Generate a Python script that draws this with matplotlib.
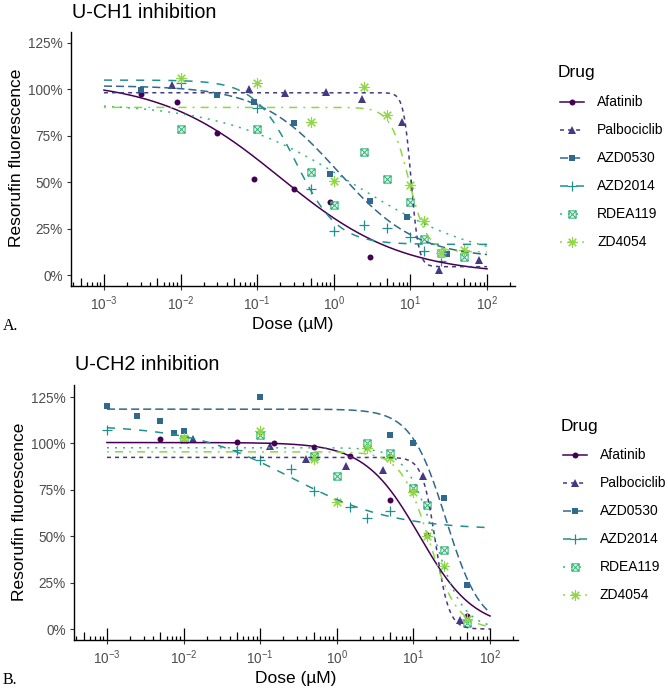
import numpy as np
import matplotlib
matplotlib.use("Agg")
import matplotlib.pyplot as plt
from matplotlib.lines import Line2D
from matplotlib.path import Path
from matplotlib.ticker import PercentFormatter, NullLocator

plt.rcParams['font.family'] = ['Liberation Sans', 'DejaVu Sans']
plt.rcParams['mathtext.fontset'] = 'custom'
plt.rcParams['mathtext.rm'] = 'Liberation Sans'
plt.rcParams['lines.scale_dashes'] = False

drugs = ["Afatinib", "Palbociclib", "AZD0530", "AZD2014", "RDEA119", "ZD4054"]
colors = ["#440154", "#443A83", "#31688E", "#21908C", "#35B779", "#8FD744"]

# U-CH1 measured points (dose in uM, fraction of control)
ch1_dose = [
    [0.003, 0.009, 0.03, 0.09, 0.3, 0.9, 3],
    [0.0078, 0.078, 0.234, 0.78, 2.34, 7.8, 23.4, 78],
    [0.003, 0.03, 0.09, 0.3, 0.9, 3, 9, 30],
    [0.01, 0.1, 0.5, 1, 2.5, 5, 10, 15, 25],
    [0.01, 0.1, 0.5, 1, 2.5, 5, 10, 15, 25, 50],
    [0.01, 0.1, 0.5, 1, 2.5, 5, 10, 15, 25, 50],
]
ch1_resp = [
    [0.973, 0.930, 0.767, 0.517, 0.463, 0.395, 0.097],
    [1.023, 1.0, 0.982, 0.986, 0.948, 0.824, 0.025, 0.081],
    [0.996, 0.971, 0.930, 0.817, 0.546, 0.399, 0.314, 0.113],
    [1.035, 0.90, 0.462, 0.238, 0.272, 0.254, 0.206, 0.131, 0.077],
    [0.785, 0.785, 0.555, 0.375, 0.664, 0.519, 0.391, 0.192, 0.117, 0.099],
    [1.063, 1.036, 0.826, 0.504, 1.015, 0.863, 0.486, 0.29, 0.12, 0.134],
]
# U-CH1 four-parameter log-logistic fits
ch1_slope = [0.55, 8.8, 0.85, 1.6, 0.5, 3.6]
ch1_bottom = [0.0, 0.045, 0.09, 0.165, 0.05, 0.125]
ch1_top = [1.05, 0.982, 1.02, 1.05, 0.93, 0.903]
ch1_ec50 = [0.2, 10.2, 1.15, 0.32, 1.8, 9.5]

# U-CH2 measured points
ch2_dose = [
    [0.005, 0.05, 0.15, 0.5, 1.5, 5, 15, 50],
    [0.0133, 0.133, 0.4, 1.33, 4, 13.3, 40],
    [0.001, 0.0025, 0.005, 0.0075, 0.01, 0.1, 5, 10, 25, 50],
    [0.001, 0.05, 0.1, 0.25, 0.5, 1.5, 2.5, 5],
    [0.01, 0.1, 0.5, 1, 2.5, 5, 10, 15, 25, 50],
    [0.01, 0.1, 0.5, 1, 2.5, 5, 10, 15, 25, 50],
]
ch2_resp = [
    [1.025, 1.008, 1.0, 0.981, 0.930, 0.695, 0.506, 0.072],
    [1.024, 0.988, 0.918, 0.876, 0.855, 0.823, 0.047],
    [1.203, 1.146, 1.119, 1.056, 1.068, 1.25, 1.043, 1.0, 0.708, 0.237],
    [1.074, 0.963, 0.91, 0.86, 0.744, 0.66, 0.60, 0.638],
    [1.025, 1.043, 0.930, 0.825, 1.0, 0.947, 0.76, 0.668, 0.427, 0.034],
    [1.03, 1.065, 0.916, 0.682, 0.978, 0.923, 0.739, 0.499, 0.34, 0.056],
]
ch2_slope = [1.22, 5.0, 1.9, 0.65, 2.3, 2.35]
ch2_bottom = [0.0, 0.0, 0.0, 0.535, 0.0, 0.0]
ch2_top = [1.005, 0.925, 1.185, 1.10, 0.977, 0.955]
ch2_ec50 = [12, 19.5, 26.5, 0.25, 19, 16]

yticks = [0, 0.25, 0.5, 0.75, 1.0, 1.25]
xticks = [1e-3, 1e-2, 1e-1, 1e0, 1e1, 1e2]

# square with a cross (R shape 7)
box_x = Path([(-1, -1), (1, -1), (1, 1), (-1, 1), (-1, -1), (-1, -1), (1, 1), (-1, 1), (1, -1)],
             [Path.MOVETO, Path.LINETO, Path.LINETO, Path.LINETO, Path.CLOSEPOLY,
              Path.MOVETO, Path.LINETO, Path.MOVETO, Path.LINETO])
u = 1.45
styles = [
    dict(ls='-', marker='o', ms=4.3, mfc=None, mew=0.0),
    dict(ls=(0, (2 * u, 2 * u)), marker='^', ms=5.2, mfc=None, mew=0.0),
    dict(ls=(0, (4 * u, 2 * u)), marker='s', ms=4.3, mfc=None, mew=0.0),
    dict(ls=(0, (4 * u, 4 * u)), marker='+', ms=7.0, mfc='none', mew=0.9),
    dict(ls=(0, (1 * u, 3 * u)), marker=box_x, ms=5.2, mfc='none', mew=0.8),
    dict(ls=(0, (1 * u, 3 * u, 4 * u, 3 * u)), marker=(8, 2, 0), ms=7.5, mfc='none', mew=0.8),
]

W, H = 668, 691
XLO, XHI = -3.43, 2.365
fig = plt.figure(figsize=(W / 100, H / 100), dpi=100)


def fx(px):
    return px / W


def fy(py):
    return 1 - py / H


def ll4(x, b, c, d, e):
    return c + (d - c) / (1 + (x / e) ** b)


def panel(box, title, dose, resp, slope, bottom, top, ec50, ytop, tag):
    l, t, r, b = box
    ax = fig.add_axes([fx(l), fy(b), fx(r - l), (b - t) / H])
    ax.set_xscale('log')
    ax.set_xlim(10 ** XLO, 10 ** XHI)
    ax.set_ylim(-0.059, ytop)
    for i, name in enumerate(drugs):
        st = styles[i]
        mfc = colors[i] if st['mfc'] is None else st['mfc']
        ax.plot(dose[i], resp[i], ls='none', marker=st['marker'], ms=st['ms'],
                color=colors[i], mfc=mfc, mew=st['mew'], zorder=2)
    xs = np.logspace(-3, 2, 300)
    for i, name in enumerate(drugs):
        ax.plot(xs, ll4(xs, slope[i], bottom[i], top[i], ec50[i]), color=colors[i],
                ls=styles[i]['ls'], lw=1.1, dash_capstyle='butt', zorder=3)
    for s in ['top', 'right']:
        ax.spines[s].set_visible(False)
    for s in ['left', 'bottom']:
        ax.spines[s].set_linewidth(1.0)
    ax.set_yticks(yticks)
    ax.yaxis.set_major_formatter(PercentFormatter(1.0, decimals=0))
    ax.set_xticks(xticks)
    ax.xaxis.set_minor_locator(NullLocator())
    ax.tick_params(axis='both', direction='out', length=3.2, width=0.8, color='#333333',
                   labelcolor='#4D4D4D', labelsize=9.8)
    ax.tick_params(axis='x', pad=3.0)
    ax.tick_params(axis='y', pad=2.5)
    # log ticks inside the panel
    hpx = b - t
    for n in range(-4, 3):
        for k in range(1, 10):
            v = k * 10.0 ** n
            if np.log10(v) < XLO or np.log10(v) > XHI:
                continue
            L = 12 if k == 1 else (8 if k == 5 else 4.5)
            ax.plot([v, v], [0, L / hpx], transform=ax.get_xaxis_transform(), color='black',
                    lw=0.9, solid_capstyle='butt', clip_on=False, zorder=4)
    fig.text(fx(l + 1), fy(t - 20), title, fontsize=14.2, ha='left', va='center')
    fig.text(fx((l + r) / 2), fy(b + 39), "Dose (µM)", fontsize=12.5, ha='center', va='center')
    fig.text(fx(l - 54.5), fy((t + b) / 2 - 1), "Resorufin fluorescence", fontsize=12.5,
             rotation=90, ha='center', va='center')
    fig.text(fx(3), fy(b + 40), tag, fontsize=11.5, family='Liberation Serif',
             ha='left', va='center')
    # legend
    dx = l - 71
    dy = t - 32
    fig.text(fx(558 + dx), fy(73 + dy), "Drug", fontsize=12.5, ha='left', va='center')
    for i, name in enumerate(drugs):
        yy = fy(102 + 28 * i + dy)
        st = styles[i]
        fig.add_artist(Line2D([fx(560 + dx), fx(584 + dx)], [yy, yy], transform=fig.transFigure,
                              color=colors[i], ls=st['ls'], lw=1.1, dash_capstyle='butt'))
        mfc = colors[i] if st['mfc'] is None else st['mfc']
        fig.add_artist(Line2D([fx(572 + dx)], [yy], transform=fig.transFigure, ls='none',
                              marker=st['marker'], ms=st['ms'], color=colors[i], mfc=mfc,
                              mew=st['mew']))
        fig.text(fx(597 + dx), yy, name, fontsize=10, ha='left', va='center')
    return ax


panel((71, 32, 515, 286), "U-CH1 inhibition", ch1_dose, ch1_resp,
      ch1_slope, ch1_bottom, ch1_top, ch1_ec50, 1.309, "A.")
panel((74, 385, 518, 640), "U-CH2 inhibition", ch2_dose, ch2_resp,
      ch2_slope, ch2_bottom, ch2_top, ch2_ec50, 1.315, "B.")

fig.savefig("out.png", dpi=100)
